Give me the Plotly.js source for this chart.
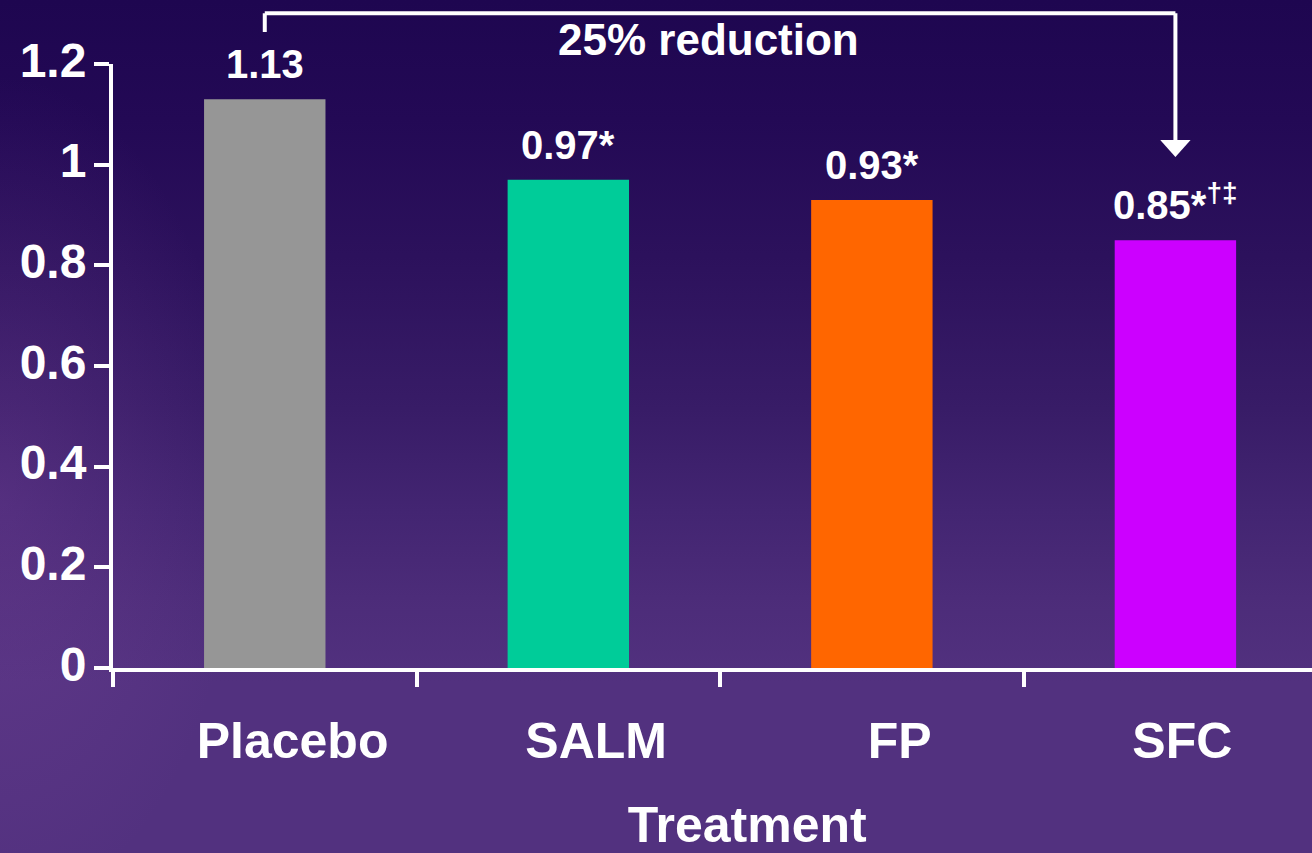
<!DOCTYPE html>
<html>
<head>
<meta charset="utf-8">
<script src="https://cdn.plot.ly/plotly-3.0.1.min.js"></script>
<style>
  html, body { margin: 0; padding: 0; width: 1312px; height: 853px; overflow: hidden; }
  body {
    background:
      radial-gradient(ellipse 240px 420px at 0% 58%, rgba(140, 80, 170, 0.25), rgba(140, 80, 170, 0) 100%),
      linear-gradient(to bottom, #1e0650 0%, #230955 14%, #2c115c 30%, #381c67 48%, #432572 60%, #4c2c79 70%, #52317f 80%, #52317f 100%);
    background-color: #3d2070;
  }
  #chart { width: 1312px; height: 853px; }
</style>
</head>
<body>
<div id="chart"></div>
<script>
// Mean annual rate of moderate/severe exacerbations by treatment arm
const categories = ['Placebo', 'SALM', 'FP', 'SFC'];
const values = [1.13, 0.97, 0.93, 0.85];
const markers = ['', '*', '*', '*<sup>†‡</sup>'];
const barColors = ['#969696', '#00cc99', '#ff6600', '#cc00ff'];
const yTicks = [0, 0.2, 0.4, 0.6, 0.8, 1, 1.2];
const yTickLabels = ['0', '0.2', '0.4', '0.6', '0.8', '1', '1.2'];
const NB = '\u00a0';
const ZW = '\u200b';
// category labels sit a little right of the bar centres
const xTickLabels = [NB.repeat(4) + 'Placebo', NB.repeat(4) + 'SALM', NB.repeat(4) + 'FP', NB + 'SFC'];
const comparisonText = '25% reduction';
const axisTitle = ZW + NB.repeat(5) + 'Treatment';

const FONT = 'Liberation Sans, Arial, Helvetica, sans-serif';
const WHITE = '#ffffff';

const trace = {
  type: 'bar',
  x: categories,
  y: values,
  width: 0.4,
  marker: { color: barColors, line: { width: 0 } },
  hoverinfo: 'x+y'
};

// value labels above each bar
const valueLabels = categories.map((c, i) => ({
  x: c, y: values[i], xref: 'x', yref: 'y',
  text: values[i].toFixed(2) + markers[i],
  showarrow: false, yanchor: 'bottom', yshift: 11,
  font: { family: FONT, size: 40, color: WHITE, weight: 'bold' }
}));

// comparison bracket between the first and last arm
const first = categories[0];
const last = categories[categories.length - 1];
const lastIdx = categories.indexOf(last);
const bracketY = 1.084;
const bracketLine = { color: WHITE, width: 4 };
const headHalf = 0.05;
const bracket = [
  { type: 'line', xref: 'x', yref: 'paper', x0: first, x1: first, y0: 1.053, y1: bracketY, line: bracketLine },
  { type: 'line', xref: 'x', yref: 'paper', x0: first, x1: last, y0: bracketY, y1: bracketY, line: bracketLine },
  { type: 'line', xref: 'x', yref: 'paper', x0: last, x1: last, y0: bracketY, y1: 0.872, line: bracketLine },
  {
    type: 'path', xref: 'x', yref: 'paper',
    path: `M ${lastIdx - headHalf},0.874 L ${lastIdx + headHalf},0.874 L ${lastIdx},0.846 Z`,
    fillcolor: WHITE, line: { width: 0 }
  }
];

const annotations = valueLabels.concat([
  {
    x: 1.5, y: 1.04, xref: 'x', yref: 'paper', xshift: -12,
    text: comparisonText, showarrow: false, yanchor: 'middle',
    font: { family: FONT, size: 44, color: WHITE, weight: 'bold' }
  }
]);

const layout = {
  width: 1312,
  height: 853,
  margin: { l: 113, r: 0, t: 64, b: 185, pad: 0 },
  paper_bgcolor: 'rgba(0,0,0,0)',
  plot_bgcolor: 'rgba(0,0,0,0)',
  showlegend: false,
  font: { family: FONT, color: WHITE, weight: 'bold' },
  xaxis: {
    type: 'category',
    range: [-0.5, 3.45],
    tickson: 'boundaries',
    tickmode: 'array', tickvals: categories, ticktext: xTickLabels,
    ticks: 'outside', ticklen: 15, tickwidth: 4, tickcolor: WHITE,
    showline: true, linewidth: 4, linecolor: WHITE,
    showgrid: false, zeroline: false,
    tickfont: { family: FONT, size: 50, color: WHITE, weight: 'bold' },
    ticklabelstandoff: 26,
    title: { text: axisTitle, standoff: 42, font: { family: FONT, size: 50, color: WHITE, weight: 'bold' } },
    automargin: false,
    fixedrange: true
  },
  yaxis: {
    range: [0, 1.2],
    tickvals: yTicks, ticktext: yTickLabels,
    ticks: 'outside', ticklen: 15, tickwidth: 4, tickcolor: WHITE,
    showline: true, linewidth: 4, linecolor: WHITE,
    showgrid: false, zeroline: false,
    tickfont: { family: FONT, size: 48, color: WHITE, weight: 'bold' },
    ticklabelstandoff: -2,
    ticklabelshift: -4,
    automargin: false,
    fixedrange: true
  },
  shapes: bracket,
  annotations: annotations
};

Plotly.newPlot('chart', [trace], layout, { displayModeBar: false, staticPlot: true });
</script>
</body>
</html>
